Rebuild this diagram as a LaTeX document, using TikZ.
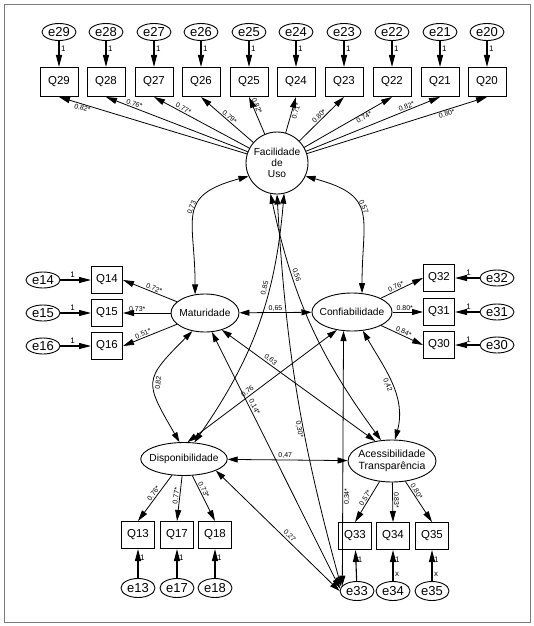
\documentclass[tikz,border=0pt]{standalone}
\usepackage{fontspec}
\setmainfont{Liberation Sans}
\usepackage{tikz}
\usetikzlibrary{arrows.meta,shapes.geometric,calc}
\definecolor{frameGray}{HTML}{7A7A7A}
\tikzset{
  itembox/.style={draw, line width=1pt, minimum width=38pt, minimum height=29pt,
                  inner sep=0pt, font=\fontsize{11.5}{12}\selectfont},
  smallbox/.style={itembox, minimum width=31pt, minimum height=27pt},
  errnode/.style={draw, ellipse, line width=0.9pt, minimum width=34pt,
                  minimum height=17pt, inner sep=0pt, font=\fontsize{13}{13}\selectfont},
  latnode/.style={draw, ellipse, line width=0.9pt, inner sep=-4pt, align=center,
                  font=\fontsize{10.2}{11}\selectfont},
  errarrow/.style={-{Triangle[length=12pt,width=6pt]}, line width=1.1pt},
  loadarrow/.style={-{Triangle[length=11pt,width=6pt]}, line width=0.8pt},
  covarrow/.style={{Triangle[length=10pt,width=6pt]}-{Triangle[length=10pt,width=6pt]},
                   line width=0.8pt},
  coeff/.style={font=\fontsize{7}{7}\selectfont, inner sep=1pt},
  onelbl/.style={font=\fontsize{8}{8}\selectfont, inner sep=1.5pt},
}

\begin{document}
\begin{tikzpicture}[x=1pt, y=1pt]
\useasboundingbox (0,0) rectangle (534,-626);
\draw[frameGray, line width=1pt] (4,-5) rectangle (530,-622);

%% Latent factors
\node[latnode, minimum width=62pt, minimum height=62pt] (fac) at (277,-163) {Facilidade\\de\\Uso};
\node[latnode, minimum width=68pt, minimum height=38pt] (mat) at (205,-313) {Maturidade};
\node[latnode, minimum width=74pt, minimum height=38pt] (conf) at (352,-312) {Confiabilidade};
\node[latnode, minimum width=76pt, minimum height=33pt] (disp) at (184,-459) {Disponibilidade};
\node[latnode, minimum width=88pt, minimum height=42pt, font=\fontsize{10.5}{11.5}\selectfont]
  (acc) at (392,-461) {Acessibilidade\\Transparência};

%% Top row: Facilidade de Uso items
\foreach \n/\x in {29/59,28/106,27/154,26/201,25/249,24/296,23/344,22/392,21/440,20/487} {
  \node[errnode] (e\n) at (\x,-32) {e\n};
  \node[itembox] (q\n) at (\x,-82) {Q\n};
  \draw[errarrow] (e\n) -- node[onelbl, right, pos=0.3] {1} (q\n);
}
\foreach \n/\v/\p/\a in {29/0.82*/0.87/north, 28/0.76*/0.81/south, 27/0.77*/0.71/south,
                         26/0.79*/0.5/south, 25/0.82*/0.72/south, 24/0.71*/0.64/north,
                         23/0.80*/0.5/south, 22/0.74*/0.66/north, 21/0.82*/0.76/south,
                         20/0.80*/0.77/north} {
  \draw[loadarrow] (fac) -- node[coeff, sloped, pos=\p, anchor=\a] {\v} (q\n.south);
}

%% Maturidade items
\foreach \n/\y in {14/-280,15/-313,16/-346} {
  \node[errnode, minimum height=16pt] (e\n) at (43,\y) {e\n};
  \node[smallbox] (q\n) at (107,\y) {Q\n};
  \draw[errarrow] (e\n) -- node[onelbl, above, pos=0.4] {1} (q\n);
}
\draw[loadarrow] (mat) -- node[coeff, sloped, above, pos=0.45] {0.72*} (q14.east);
\draw[loadarrow] (mat) -- node[coeff, sloped, above, pos=0.7] {0.73*} (q15.east);
\draw[loadarrow] (mat) -- node[coeff, sloped, above, pos=0.6] {0.51*} (q16.east);

%% Confiabilidade items
\foreach \n/\y in {32/-278,31/-312,30/-345} {
  \node[errnode, minimum height=16pt] (e\n) at (497,\y) {e\n};
  \node[smallbox] (q\n) at (439,\y) {Q\n};
  \draw[errarrow] (e\n) -- node[onelbl, above, pos=0.45] {1} (q\n);
}
\draw[loadarrow] (conf) -- node[coeff, sloped, above, pos=0.4] {0.76*} (q32.west);
\draw[loadarrow] (conf) -- node[coeff, sloped, above, pos=0.4] {0.80*} (q31.west);
\draw[loadarrow] (conf) -- node[coeff, sloped, above, pos=0.5] {0.84*} (q30.west);

%% Disponibilidade items
\foreach \n/\x in {13/138,17/177,18/215} {
  \node[errnode, minimum height=19pt] (e\n) at (\x,-588) {e\n};
  \node[smallbox, minimum width=33pt] (q\n) at (\x,-535) {Q\n};
  \draw[errarrow] (e\n) -- node[onelbl, right, pos=0.7] {1} (q\n);
}
\draw[loadarrow] (disp) -- node[coeff, sloped, above, pos=0.45] {0.76*} (q13.north);
\draw[loadarrow] (disp) -- node[coeff, sloped, above, pos=0.45] {0.77*} (q17.north);
\draw[loadarrow] (disp) -- node[coeff, sloped, above, pos=0.35] {0.73*} (q18.north);

%% Acessibilidade items
\foreach \n/\x in {33/357,34/393,35/432} {
  \node[errnode, minimum height=19pt] (e\n) at (\x,-591) {e\n};
}
\foreach \n/\x in {33/355,34/393,35/432} {
  \node[smallbox, minimum width=33pt] (q\n) at (\x,-536) {Q\n};
}
\draw[errarrow] (e33) -- node[onelbl, right, pos=0.7] {1} (q33);
\draw[errarrow] (e34) -- node[onelbl, right, pos=0.7] {1} node[onelbl, right, pos=0.2] {x} (q34);
\draw[errarrow] (e35) -- node[onelbl, right, pos=0.7] {1} node[onelbl, right, pos=0.2] {x} (q35);
\draw[loadarrow] (acc) -- node[coeff, sloped, above, pos=0.45] {0.57*} (q33.north);
\draw[loadarrow] (acc) -- node[coeff, sloped, above, pos=0.45] {0.83*} (q34.north);
\draw[loadarrow] (acc) -- node[coeff, sloped, above, pos=0.3] {0.80*} (q35.north);

%% Covariances between factors
\draw[covarrow] (fac.205) to[out=195, in=90, looseness=1.5]
  node[coeff, sloped, above, pos=0.45] {0,73} (mat.118);
\draw[covarrow] (fac.335) to[out=345, in=90, looseness=1.5]
  node[coeff, sloped, above, pos=0.45] {0,57} (conf.62);
\draw[covarrow] (mat.235) to[out=225, in=120, looseness=1.6]
  node[coeff, sloped, below, pos=0.5] {0,82} (disp.105);
\draw[covarrow] (conf.300) to[out=300, in=75]
  node[coeff, sloped, below, pos=0.5] {0,42} (acc.82);
\draw[covarrow] (mat) -- node[coeff, above, pos=0.5] {0,65} (conf);
\draw[covarrow] (disp) -- node[coeff, above, pos=0.48] {0,47} (acc);
\draw[covarrow] (mat.315) -- node[coeff, sloped, above, pos=0.3] {0,63} (acc.130);
\draw[covarrow] (conf.230) -- node[coeff, sloped, above, pos=0.58] {0,76} (disp.78);
\draw[covarrow] (fac.283) to[bend left=15]
  node[coeff, sloped, above, pos=0.35] {0,85} (disp.58);
\draw[covarrow] (fac.258) to[bend right=12]
  node[coeff, sloped, above, pos=0.3] {0,56} (acc.118);

%% Covariances with e33
\draw[covarrow] (fac.270) to[bend right=6]
  node[coeff, sloped, below, pos=0.6] {0,30*} (e33.165);
\draw[covarrow] (conf.246) -- node[coeff, sloped, below, pos=0.65] {0,34*} (e33.160);
\draw[covarrow] (mat.290) -- node[coeff, sloped, above, pos=0.3] {0,14*} (e33.172);
\draw[covarrow] (disp.340) -- node[coeff, sloped, above, pos=0.57] {0,27} (e33.180);
\end{tikzpicture}
\end{document}
